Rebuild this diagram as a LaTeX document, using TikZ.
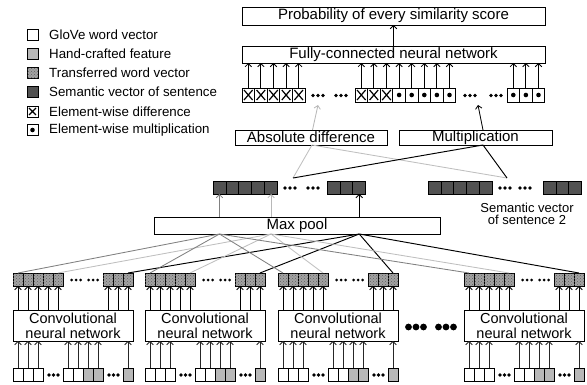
\documentclass[tikz,border=0pt]{standalone}
\usepackage{fontspec}
\setmainfont{Liberation Sans}
\usetikzlibrary{arrows.meta,patterns}
\begin{document}
\begin{tikzpicture}[x=1pt,y=-1pt,
  base/.style={draw, inner sep=0pt, outer sep=0pt, line width=0.8pt},
  lbl/.style={base, font=\fontsize{15}{17}\selectfont},
  tcell/.style={base, minimum width=12.6pt, minimum height=14pt},
  scell/.style={base, fill=black!68, minimum width=12.9pt, minimum height=13pt},
  hcell/.style={base, fill=black!36, postaction={pattern=crosshatch dots, pattern color=black!62}, minimum width=10pt, minimum height=13pt},
  icell/.style={base, fill=white, minimum width=10pt, minimum height=13pt},
  hand/.style={fill=black!28},
  xc/.style={path picture={\draw[line width=1.2pt]
      ([shift={(2pt,2pt)}]path picture bounding box.south west) -- ([shift={(-2pt,-2pt)}]path picture bounding box.north east)
      ([shift={(2pt,-2pt)}]path picture bounding box.north west) -- ([shift={(-2pt,2pt)}]path picture bounding box.south east);}},
  dc/.style={path picture={\fill (path picture bounding box.center) circle (2.3pt);}},
  arr/.style={-{Straight Barb[length=3.2pt,width=6.5pt]}, line width=0.85pt},
  gline/.style={draw=black!50, line width=0.85pt},
  lline/.style={draw=black!25, line width=0.85pt},
  kline/.style={draw=black, line width=0.95pt},
  legtxt/.style={anchor=west, inner sep=0pt, font=\fontsize{13.3}{15}\selectfont},
  legbox/.style={base, minimum width=11pt, minimum height=11pt},
]
\useasboundingbox (0,0) rectangle (587,385);

% ---------- legend ----------
\node[legbox] (lg1) at (32.5,35) {};
\node[legbox, fill=black!28] (lg2) at (32.5,54) {};
\node[legbox, fill=black!36, postaction={pattern=crosshatch dots, pattern color=black!62}] (lg3) at (32.5,73) {};
\node[legbox, fill=black!68] (lg4) at (32.5,92) {};
\node[legbox, xc] (lg5) at (32.5,111.5) {};
\node[legbox, dc] (lg6) at (32.5,130) {};
\node[legtxt] (lt1) at (49,35) {GloVe word vector};
\node[legtxt] (lt2) at (49,54) {Hand-crafted feature};
\node[legtxt] (lt3) at (49,73) {Transferred word vector};
\node[legtxt] (lt4) at (49,92) {Semantic vector of sentence};
\node[legtxt] (lt5) at (49,111.5) {Element-wise difference};
\node[legtxt] (lt6) at (49,130) {Element-wise multiplication};

% ---------- top boxes ----------
\node[lbl, minimum width=303pt, minimum height=18pt] (prob) at (393.5,16) {Probability of every similarity score};
\node[lbl, minimum width=303pt, minimum height=17pt] (fc) at (393.5,54.5) {Fully-connected neural network};
\draw[arr] (fc.north) -- (prob.south);

% element-wise row
\foreach \i in {0,...,4} {\node[tcell, xc] (ta\i) at (242+6.3+12.6*\i,95) {};}
\foreach \i in {0,...,2} {\node[tcell, xc] (tb\i) at (355+6.3+12.6*\i,95) {};}
\foreach \i in {3,...,7} {\node[tcell, dc] (tb\i) at (355+6.3+12.6*\i,95) {};}
\foreach \i in {0,...,2} {\node[tcell, dc] (tc\i) at (507+6.3+12.6*\i,95) {};}
\foreach \n in {ta0,ta1,ta2,ta3,ta4,tb0,tb1,tb2,tb3,tb4,tb5,tb6,tb7,tc0,tc1,tc2}
  {\draw[arr] (\n.north) -- (fc.south -| \n.north);}
\foreach \x in {313,318,323,336,341,346,465,470,475,491,496,501}
  {\fill (\x,95.5) circle (1.9pt);}

% abs diff / multiplication
\node[lbl, minimum width=152pt, minimum height=15pt] (abs) at (311,137.5) {Absolute difference};
\node[lbl, minimum width=153pt, minimum height=15pt] (mul) at (475.5,137.5) {Multiplication};
\coordinate (absTip) at (318,105);
\coordinate (mulTip) at (478,105);
\draw[arr, draw=black!28] ([xshift=1.5pt]abs.north) -- (absTip);
\draw[arr] ([xshift=7.5pt]mul.north) -- (mulTip);

% ---------- semantic vectors ----------
\foreach \i in {0,...,4} {\node[scell] (s1a\i) at (213+6.45+12.9*\i,187.5) {};}
\foreach \i in {0,...,2} {\node[scell] (s1b\i) at (327+6.45+12.9*\i,187.5) {};}
\foreach \i in {0,...,4} {\node[scell] (s2a\i) at (428+6.45+12.9*\i,187.5) {};}
\foreach \i in {0,...,2} {\node[scell] (s2b\i) at (543+6.45+12.9*\i,187.5) {};}
\foreach \x in {285,290,295,308,313,318,500,505,510,520,525,530}
  {\fill (\x,188) circle (1.8pt);}
\node[align=center, inner sep=0pt, font=\fontsize{13}{12.5}\selectfont] (lab2) at (527,214) {Semantic vector\\of sentence 2};

\coordinate (s1hub) at (293,178);
\coordinate (s2hub) at (507,178);
\draw[lline] (s1hub) -- ([xshift=1pt]abs.south);
\draw[lline] (s2hub) -- ([xshift=1pt]abs.south);
\draw[kline] (s1hub) -- ([xshift=7.5pt]mul.south);
\draw[kline] (s2hub) -- ([xshift=7.5pt]mul.south);

% ---------- max pool ----------
\node[lbl, minimum width=286pt, minimum height=17pt] (mp) at (297,225.5) {Max pool};
\draw[arr, draw=black!50] (mp.north -| s1a0) -- (s1a0.south);
\draw[arr, draw=black!28] (mp.north -| s1a4) -- (s1a4.south);
\draw[arr] (mp.north -| s1b2) -- (s1b2.south);

% ---------- CNN blocks ----------
\foreach \k/\X in {1/13,2/145,3/278,4/464} {
  \node[base, minimum width=120pt, minimum height=31pt, align=center,
        font=\fontsize{14.5}{15}\selectfont] (cnn\k) at (\X+60,325.5) {Convolutional\\neural network};
  % transferred word vectors
  \foreach \i in {0,...,4} {\node[hcell] (h\k a\i) at (\X+5+10*\i,279.5) {};}
  \foreach \i in {0,...,2} {\node[hcell] (h\k b\i) at (\X+95+10*\i,279.5) {};}
  \foreach \d in {58.5,63,67.5,75.5,80,84.5} {\fill (\X+\d,280) circle (1.5pt);}
  \foreach \n in {a0,a1,a2,a3,a4,b0,b1,b2} {\draw[arr] (cnn\k.north -| h\k\n) -- (h\k\n.south);}
  % inputs
  \foreach \i in {0,...,2} {\node[icell] (in\k a\i) at (\X+5+10*\i,374.5) {};}
  \node[icell] (in\k b0) at (\X+55,374.5) {};
  \node[icell] (in\k b1) at (\X+65,374.5) {};
  \node[icell, hand] (in\k b2) at (\X+75,374.5) {};
  \node[icell, hand] (in\k b3) at (\X+85,374.5) {};
  \node[icell, hand] (in\k c0) at (\X+115,374.5) {};
  \foreach \d in {36,40.5,45,96,100.5,105} {\fill (\X+\d,375) circle (1.8pt);}
  \foreach \n in {a0,a1,a2,b0,b1,b2,b3,c0} {\draw[arr, draw=black!85] (in\k\n.north) -- (cnn\k.south -| in\k\n);}
  % links to max pool
  \draw[gline] (mp.south -| s1a0) -- (h\k a0.north);
  \draw[lline] (mp.south -| s1a4) -- (h\k a4.north);
  \draw[kline] (mp.south -| s1b2) -- (h\k b2.north);
}
% dots between CNN 3 and CNN 4
\foreach \x in {408.5,416,423.5,438.5,446,453.5} {\fill (\x,327) circle (3.4pt);}
\end{tikzpicture}
\end{document}
